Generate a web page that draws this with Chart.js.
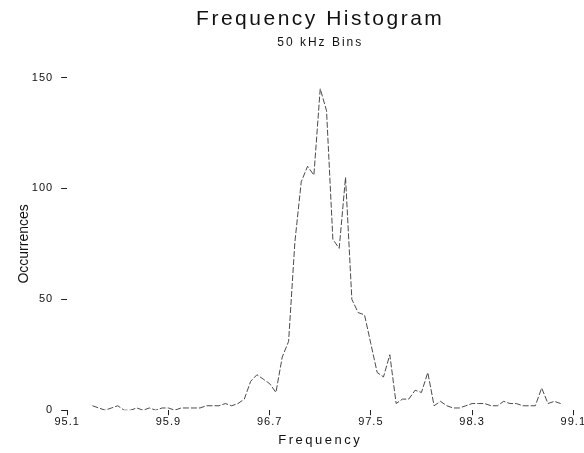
<!DOCTYPE html>
<html>
<head>
<meta charset="utf-8">
<script src="https://cdn.jsdelivr.net/npm/chart.js@4/dist/chart.umd.min.js"></script>
<style>
  html, body { margin: 0; padding: 0; background: #fff; }
  #wrap { width: 584px; height: 453px; }
</style>
</head>
<body>
<div id="wrap"><canvas id="c" width="584" height="453"></canvas></div>
<script>
// Bin centre frequencies (MHz), 50 kHz bins
const freqs = [
  95.30, 95.35, 95.40, 95.45, 95.50, 95.55, 95.60, 95.65, 95.70, 95.75,
  95.80, 95.85, 95.90, 95.95, 96.00, 96.05, 96.10, 96.15, 96.20, 96.25,
  96.30, 96.35, 96.40, 96.45, 96.50, 96.55, 96.60, 96.65, 96.70, 96.75,
  96.80, 96.85, 96.90, 96.95, 97.00, 97.05, 97.10, 97.15, 97.20, 97.25,
  97.30, 97.35, 97.40, 97.45, 97.50, 97.55, 97.60, 97.65, 97.70, 97.75,
  97.80, 97.85, 97.90, 97.95, 98.00, 98.05, 98.10, 98.15, 98.20, 98.25,
  98.30, 98.35, 98.40, 98.45, 98.50, 98.55, 98.60, 98.65, 98.70, 98.75,
  98.80, 98.85, 98.90, 98.95, 99.00
];
// Occurrences per bin
const occurrences = [
  2, 1, 0, 1, 2, 0, 0, 1, 0, 1,
  0, 1, 1, 0, 1, 1, 1, 1, 2, 2,
  2, 3, 2, 3, 5, 13, 16, 14, 12, 8,
  24, 31, 76, 103, 110, 106, 145, 135, 77, 73,
  105, 50, 44, 43, 30, 17, 15, 25, 3, 5,
  5, 9, 8, 17, 2, 4, 2, 1, 1, 2,
  3, 3, 3, 2, 2, 4, 3, 3, 2, 2,
  2, 10, 3, 4, 3
];
const xTicks = [95.1, 95.9, 96.7, 97.5, 98.3, 99.1];
const yTicks = [0, 50, 100, 150];

const titleText = 'Frequency Histogram';
const subtitleText = '50 kHz Bins';
const xTitle = 'Frequency';
const yTitle = 'Occurrences';

const FONT = "'Liberation Sans', Arial, sans-serif";
// letter spacing per font size (the reference text is widely spaced)
const SPACING = { 21: '2.5px', 12: '2px', 11: '1px', 13: '2.5px', 14: '0px' };

const spacingPlugin = {
  id: 'spacing',
  beforeInit(chart) {
    const ctx = chart.ctx;
    if (ctx.__patched) return;
    const orig = ctx.fillText.bind(ctx);
    ctx.fillText = function (t, x, y, m) {
      const mm = /(\d+(?:\.\d+)?)px/.exec(ctx.font);
      const s = mm ? Math.round(parseFloat(mm[1])) : 12;
      const has = 'letterSpacing' in ctx;
      if (has) ctx.letterSpacing = SPACING[s] || '0px';
      const r = m === undefined ? orig(t, x, y) : orig(t, x, y, m);
      if (has) ctx.letterSpacing = '0px';
      return r;
    };
    ctx.__patched = true;
  }
};

const points = freqs.map((f, i) => ({ x: f, y: occurrences[i] }));

new Chart(document.getElementById('c'), {
  type: 'line',
  data: {
    datasets: [{
      data: points,
      borderColor: 'rgba(55,55,55,0.9)',
      borderWidth: 1,
      borderDash: [6, 2],
      pointRadius: 0,
      tension: 0,
      fill: false
    }]
  },
  plugins: [spacingPlugin],
  options: {
    responsive: false,
    animation: false,
    layout: { padding: { left: 4, right: 4, top: 0, bottom: 1 } },
    plugins: {
      legend: { display: false },
      tooltip: { enabled: false },
      title: {
        display: true,
        text: titleText,
        fullSize: false,
        color: '#111',
        font: { family: FONT, size: 21, weight: 'normal' },
        padding: { top: 7, bottom: 2 }
      },
      subtitle: {
        display: true,
        text: subtitleText,
        fullSize: false,
        color: '#111',
        font: { family: FONT, size: 12, weight: 'normal' },
        padding: { top: 1, bottom: 28 }
      }
    },
    scales: {
      x: {
        type: 'linear',
        min: 95.1,
        max: 99.1,
        afterBuildTicks: (scale) => { scale.ticks = xTicks.map(v => ({ value: v })); },
        ticks: {
          color: '#111',
          font: { family: FONT, size: 11 },
          padding: 0,
          maxRotation: 0,
          autoSkip: false,
          callback: (v) => Number(v).toFixed(1)
        },
        grid: { drawOnChartArea: false, drawTicks: true, tickLength: 5, tickColor: '#222' },
        border: { display: false },
        title: {
          display: true,
          text: xTitle,
          color: '#111',
          font: { family: FONT, size: 13 },
          padding: { top: 4, bottom: 4 }
        }
      },
      y: {
        type: 'linear',
        min: 0,
        max: 150,
        afterBuildTicks: (scale) => { scale.ticks = yTicks.map(v => ({ value: v })); },
        ticks: {
          color: '#111',
          font: { family: FONT, size: 11 },
          padding: 8
        },
        grid: { drawOnChartArea: false, drawTicks: true, tickLength: 6, tickColor: '#222' },
        border: { display: false },
        title: {
          display: true,
          text: yTitle,
          color: '#111',
          font: { family: FONT, size: 14 },
          padding: { top: 12, bottom: -6 }
        }
      }
    }
  }
});
</script>
</body>
</html>
